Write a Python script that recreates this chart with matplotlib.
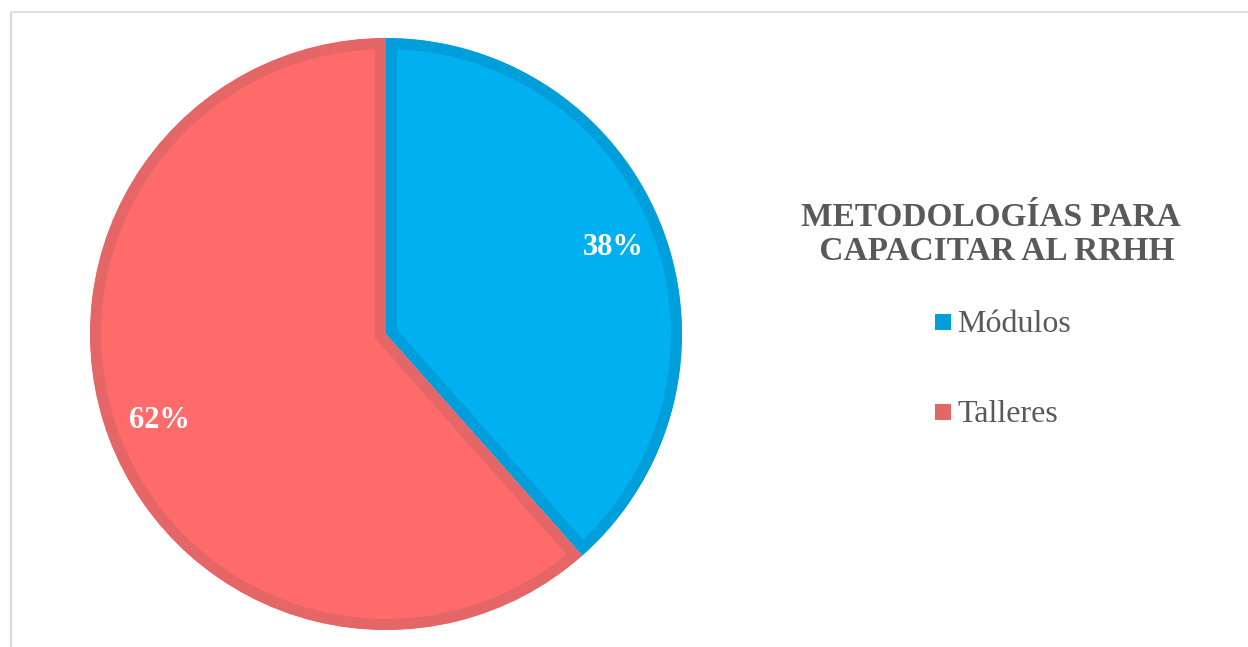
import matplotlib
matplotlib.use("Agg")
import matplotlib.pyplot as plt
from matplotlib.patches import Rectangle, Wedge

labels = ["Módulos", "Talleres"]
values = [5, 8]
fill_colors = ["#00B0F0", "#FF6B6B"]
edge_colors = ["#009FDC", "#E56666"]
title_lines = ["METODOLOGÍAS PARA", " CAPACITAR AL RRHH"]

W, H = 1248, 647
fig = plt.figure(figsize=(W / 100, H / 100), dpi=100)
ax = fig.add_axes([0, 0, 1, 1])
serif = "Liberation Serif"
CX, CY, R = 386, H - 334, 296

wedges, texts, autotexts = ax.pie(
    values,
    colors=fill_colors,
    startangle=90,
    counterclock=False,
    center=(CX, CY),
    radius=R,
    autopct="%1.0f%%",
    pctdistance=0.82,
    textprops=dict(color="white", fontsize=22, fontweight="bold", family=serif),
    frame=True,
)
ax.set_xlim(0, W)
ax.set_ylim(0, H)
ax.axis("off")
for w, ec in zip(wedges, edge_colors):
    w.set_edgecolor(ec)
    w.set_linewidth(16)
    w.set_joinstyle("miter")
    clip = Wedge(w.center, w.r, w.theta1, w.theta2, transform=ax.transData)
    w.set_clip_on(True)
    w.set_clip_path(clip)

# chart frame (top and left border)
ax.plot([11, W], [H - 12, H - 12], color="#D9D9D9", lw=1.2, solid_capstyle="butt")
ax.plot([11, 11], [0, H - 12], color="#D9D9D9", lw=1.5, solid_capstyle="butt")

# title
ax.text(991, H - 218, title_lines[0], ha="center", va="center", fontsize=24,
        fontweight="bold", color="#595959", family=serif)
ax.text(993, H - 252, title_lines[1], ha="center", va="center", fontsize=24,
        fontweight="bold", color="#595959", family=serif)

# legend
leg_y = [322, 412]
for lab, col, y in zip(labels, edge_colors, leg_y):
    ax.add_patch(Rectangle((935, H - y - 8), 16, 16, color=col, lw=0))
    ax.text(957, H - y - 2, lab, ha="left", va="center", fontsize=23,
            color="#595959", family=serif)

fig.savefig("out.png", dpi=100)
